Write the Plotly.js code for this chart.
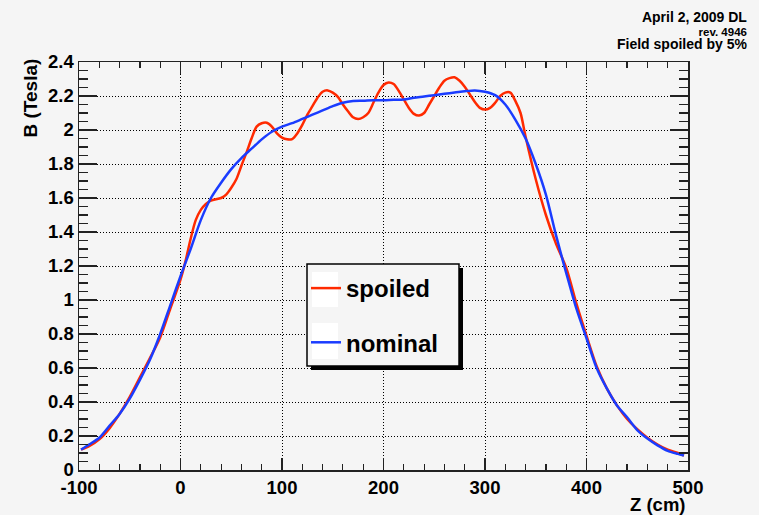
<!DOCTYPE html>
<html>
<head>
<meta charset="utf-8">
<script src="https://cdn.plot.ly/plotly-3.0.1.min.js"></script>
<style>html,body{margin:0;padding:0;background:#f5f5f5;}#chart{width:759px;height:515px;}</style>
</head>
<body>
<div id="chart"></div>
<script>
// ---- data ----
const zNominal = [-98,-90,-80,-70,-60,-50,-40,-30,-20,-10,0,10,20,30,40,50,60,70,80,90,100,110,120,130,140,150,160,170,180,190,200,210,220,230,240,250,260,270,280,290,300,310,320,330,340,350,360,370,380,390,400,410,420,430,440,450,460,470,480,490,496];
const bNominal = [0.12,0.15,0.19,0.26,0.33,0.42,0.53,0.65,0.80,0.97,1.14,1.30,1.47,1.60,1.69,1.77,1.835,1.89,1.945,1.99,2.02,2.04,2.065,2.09,2.115,2.14,2.16,2.17,2.172,2.175,2.175,2.178,2.18,2.19,2.197,2.205,2.213,2.22,2.228,2.233,2.225,2.205,2.15,2.06,1.95,1.80,1.62,1.38,1.16,0.95,0.775,0.60,0.48,0.38,0.31,0.235,0.185,0.145,0.113,0.095,0.085];

const zSpoiled = [-98,-90,-80,-70,-60,-50,-40,-30,-20,-10,0,5,10,15,20,25,30,40,45,50,55,60,65,70,75,80,85,90,95,100,105,110,115,120,125,130,135,140,145,150,155,160,165,170,175,180,185,190,195,200,205,210,215,220,225,230,235,240,245,250,255,260,265,270,275,280,285,290,295,300,305,310,315,320,325,330,335,340,350,360,370,380,390,400,410,420,430,440,450,460,470,480,490,496];
const bSpoiled = [0.12,0.14,0.18,0.245,0.33,0.43,0.545,0.66,0.78,0.95,1.12,1.23,1.36,1.47,1.53,1.565,1.585,1.60,1.62,1.66,1.71,1.79,1.867,1.95,2.02,2.04,2.043,2.02,1.98,1.955,1.945,1.947,1.98,2.03,2.09,2.14,2.19,2.225,2.233,2.22,2.195,2.15,2.11,2.075,2.065,2.075,2.10,2.16,2.22,2.265,2.28,2.27,2.23,2.18,2.13,2.095,2.085,2.10,2.15,2.20,2.25,2.29,2.305,2.31,2.29,2.255,2.21,2.165,2.13,2.12,2.13,2.16,2.20,2.22,2.22,2.17,2.10,1.96,1.71,1.50,1.33,1.19,0.98,0.79,0.61,0.48,0.38,0.30,0.24,0.19,0.15,0.12,0.10,0.085];

const xTickVals = [-100,0,100,200,300,400,500];
const xTickText = ['-100','0','100','200','300','400','500'];
const yTickVals = [0,0.2,0.4,0.6,0.8,1,1.2,1.4,1.6,1.8,2,2.2,2.4];
const yTickText = ['0','0.2','0.4','0.6','0.8','1','1.2','1.4','1.6','1.8','2','2.2','2.4'];

const seriesNames = ['spoiled','nominal'];
const titleLines = ['April 2, 2009 DL','rev. 4946','Field spoiled by 5%'];

// ---- layout helpers ----
const W = 759, H = 515, L = 79, R = 71, T = 62, B = 45;
const PW = W - L - R, PH = H - T - B;
const px2x = p => (p - L) / PW;
const px2y = p => (H - B - p) / PH;

const FONT = 'Liberation Sans, Arial, Helvetica, sans-serif';
const gray = '#f5f5f5';

const traces = [
  {x: zSpoiled, y: bSpoiled, name: seriesNames[0], type: 'scatter', mode: 'lines',
   line: {color: '#ff2a00', width: 2.5, shape: 'spline', smoothing: 0.8}, legendgroup: 'a'},
  {x: zNominal, y: bNominal, name: seriesNames[1], type: 'scatter', mode: 'lines',
   line: {color: '#1a3cff', width: 2.5, shape: 'spline', smoothing: 0.8}, legendgroup: 'b'}
];

const axisCommon = {
  showline: true, linecolor: '#222', linewidth: 1.5, mirror: 'ticks',
  ticks: 'inside', tickcolor: '#222', tickwidth: 1.2,
  showgrid: true, gridcolor: '#000', gridwidth: 1, griddash: '1px,2px',
  zeroline: false, tickmode: 'array',
  tickfont: {family: FONT, size: 18.5, color: '#000', weight: 700}
};

const headerText = '<span style="font-size:14px">' + titleLines[0] + '</span><br>' +
                   '<span style="font-size:11.5px">' + titleLines[1] + '</span><br>' +
                   '<span style="font-size:14px">' + titleLines[2] + '</span>';

const layout = {
  width: W, height: H,
  margin: {l: L, r: R, t: T, b: B, pad: 0},
  paper_bgcolor: gray, plot_bgcolor: gray,
  showlegend: true,
  legend: {x: px2x(306), y: px2y(266), xanchor: 'left', yanchor: 'top',
           bgcolor: 'rgba(0,0,0,0)', borderwidth: 0, tracegroupgap: 20,
           font: {family: FONT, size: 24, color: '#000', weight: 700}},
  xaxis: Object.assign({}, axisCommon, {
    range: [-100, 500], tickvals: xTickVals, ticktext: xTickText, ticklen: 12,
    minor: {dtick: 20, tick0: 0, ticklen: 6, ticks: 'inside', tickcolor: '#222', tickwidth: 1.2, showgrid: false}
  }),
  yaxis: Object.assign({}, axisCommon, {
    range: [0, 2.4], tickvals: yTickVals, ticktext: yTickText, ticklen: 18,
    minor: {dtick: 0.05, tick0: 0, ticklen: 9, ticks: 'inside', tickcolor: '#222', tickwidth: 1.2, showgrid: false}
  }),
  shapes: [
    {type: 'rect', xref: 'paper', yref: 'paper', layer: 'above',
     x0: px2x(311), x1: px2x(463), y0: px2y(370), y1: px2y(268),
     fillcolor: '#000', line: {width: 0}},
    {type: 'rect', xref: 'paper', yref: 'paper', layer: 'above',
     x0: px2x(307), x1: px2x(459), y0: px2y(366), y1: px2y(264),
     fillcolor: gray, line: {color: '#000', width: 1.5}},
    {type: 'rect', xref: 'paper', yref: 'paper', layer: 'above',
     x0: px2x(312), x1: px2x(338), y0: px2y(307), y1: px2y(272),
     fillcolor: '#fff', line: {width: 0}},
    {type: 'rect', xref: 'paper', yref: 'paper', layer: 'above',
     x0: px2x(312), x1: px2x(338), y0: px2y(359), y1: px2y(323),
     fillcolor: '#fff', line: {width: 0}}
  ],
  annotations: [
    {text: headerText, xref: 'paper', yref: 'paper', x: px2x(749), y: px2y(30),
     xanchor: 'right', yanchor: 'middle', align: 'right', showarrow: false,
     font: {family: FONT, size: 10.4, color: '#000', weight: 700}},
    {text: 'B (Tesla)', xref: 'paper', yref: 'paper', x: px2x(30), y: px2y(57),
     xanchor: 'center', yanchor: 'top', textangle: -90, showarrow: false,
     font: {family: FONT, size: 19, color: '#000', weight: 700}},
    {text: 'Z (cm)', xref: 'paper', yref: 'paper', x: px2x(688), y: px2y(505),
     xanchor: 'right', yanchor: 'middle', showarrow: false,
     font: {family: FONT, size: 18.5, color: '#000', weight: 700}}
  ]
};

Plotly.newPlot('chart', traces, layout, {displayModeBar: false, staticPlot: true});
</script>
</body>
</html>
